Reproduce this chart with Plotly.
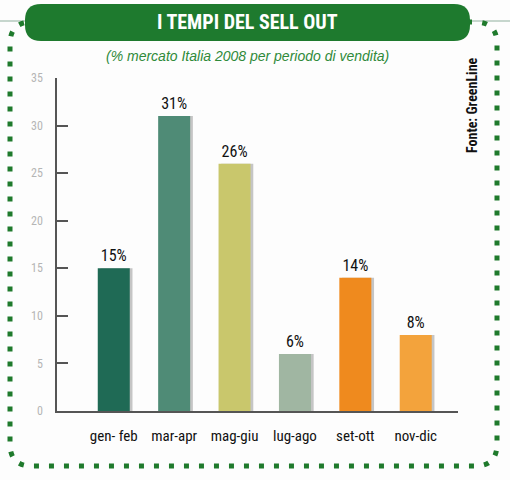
import plotly.graph_objects as go

categories = ["gen- feb", "mar-apr", "mag-giu", "lug-ago", "set-ott", "nov-dic"]
values = [15, 31, 26, 6, 14, 8]
bar_colors = ["#1f6a55", "#4f8b76", "#c9c76c", "#a0b6a2", "#ef8a1e", "#f3a33c"]
y_ticks = [0, 5, 10, 15, 20, 25, 30, 35]

title_text = "I TEMPI DEL SELL OUT"
subtitle_text = "(% mercato Italia 2008 per periodo di vendita)"
source_text = "Fonte: GreenLine"

W, H = 510, 480
ML, MR, MT, MB = 57, 52, 78, 69
PW = W - ML - MR
PH = H - MT - MB

def px(x):
    return (x - ML) / PW

def py(y):
    return (H - MB - y) / PH

def rrect(x0, y0, x1, y1, r):
    pts = [
        f"M {px(x0 + r)},{py(y0)}",
        f"L {px(x1 - r)},{py(y0)}",
        f"Q {px(x1)},{py(y0)} {px(x1)},{py(y0 + r)}",
        f"L {px(x1)},{py(y1 - r)}",
        f"Q {px(x1)},{py(y1)} {px(x1 - r)},{py(y1)}",
        f"L {px(x0 + r)},{py(y1)}",
        f"Q {px(x0)},{py(y1)} {px(x0)},{py(y1 - r)}",
        f"L {px(x0)},{py(y0 + r)}",
        f"Q {px(x0)},{py(y0)} {px(x0 + r)},{py(y0)}",
        "Z",
    ]
    return " ".join(pts)

NARROW = "Roboto Condensed, Open Sans Condensed, sans-serif"

fig = go.Figure()
# soft shadow on right side of bars
fig.add_trace(go.Bar(
    x=list(range(len(categories))), y=values,
    marker=dict(color="rgba(70,70,70,0.30)", line=dict(width=0)),
    width=0.53, offset=-0.22, hoverinfo="skip", showlegend=False,
))
fig.add_trace(go.Bar(
    x=list(range(len(categories))), y=values,
    marker=dict(color=bar_colors, line=dict(width=0)),
    width=0.53, offset=-0.265,
    text=[f"{v}%" for v in values], textposition="outside",
    textfont=dict(family=NARROW, size=16, color="#111111"),
    cliponaxis=False, showlegend=False,
))

shapes = [
    dict(type="line", xref="paper", yref="paper", x0=px(0), x1=px(W), y0=py(21), y1=py(21),
         line=dict(color="#8fb09d", width=1.2), layer="below"),
    dict(type="path", xref="paper", yref="paper", path=rrect(10, 22, 497, 466, 22),
         line=dict(color="#1f7a2c", width=5, dash="5px,10px"), fillcolor="rgba(0,0,0,0)", layer="above"),
    dict(type="path", xref="paper", yref="paper", path=rrect(25, 4, 470, 41, 16),
         line=dict(width=0), fillcolor="#1e7a2e", layer="above"),
]

annotations = [
    dict(text=f"<b>{title_text}</b>", xref="paper", yref="paper", x=px(247), y=py(22),
         showarrow=False, font=dict(family=NARROW, size=20, color="white"), xanchor="center", yanchor="middle"),
    dict(text=f"<i>{subtitle_text}</i>", xref="paper", yref="paper", x=px(247), y=py(56),
         showarrow=False, font=dict(family="Liberation Sans, Arial, sans-serif", size=14, color="#2f8a3a"),
         xanchor="center", yanchor="middle"),
    dict(text=f"<b>{source_text}</b>", xref="paper", yref="paper", x=px(472), y=py(105),
         showarrow=False, textangle=-90, font=dict(family=NARROW, size=14, color="#111111"),
         xanchor="center", yanchor="middle"),
]

fig.update_layout(
    width=W, height=H, autosize=False,
    margin=dict(l=ML, r=MR, t=MT, b=MB),
    paper_bgcolor="#fdfdfd", plot_bgcolor="#fdfdfd",
    barmode="overlay",
    shapes=shapes, annotations=annotations,
    xaxis=dict(
        range=[-0.94, 5.7], tickmode="array", tickvals=list(range(len(categories))), ticktext=categories,
        showgrid=False, zeroline=False, showline=True, linecolor="#555555", linewidth=1.5,
        ticks="", tickfont=dict(family=NARROW, size=15, color="#111111"), ticklabelstandoff=10,
    ),
    yaxis=dict(
        range=[0, 35], tickmode="array", tickvals=y_ticks, ticktext=[str(t) for t in y_ticks],
        showgrid=False, zeroline=False, showline=True, linecolor="#555555", linewidth=1.5,
        ticks="inside", ticklen=11, tickwidth=1.5, tickcolor="#555555",
        tickfont=dict(family=NARROW, size=12, color="#b5b5b5"), ticklabelstandoff=10,
    ),
)

fig.write_html("out.html", config={"displayModeBar": False},
               post_script="document.body.style.margin='0px';")
